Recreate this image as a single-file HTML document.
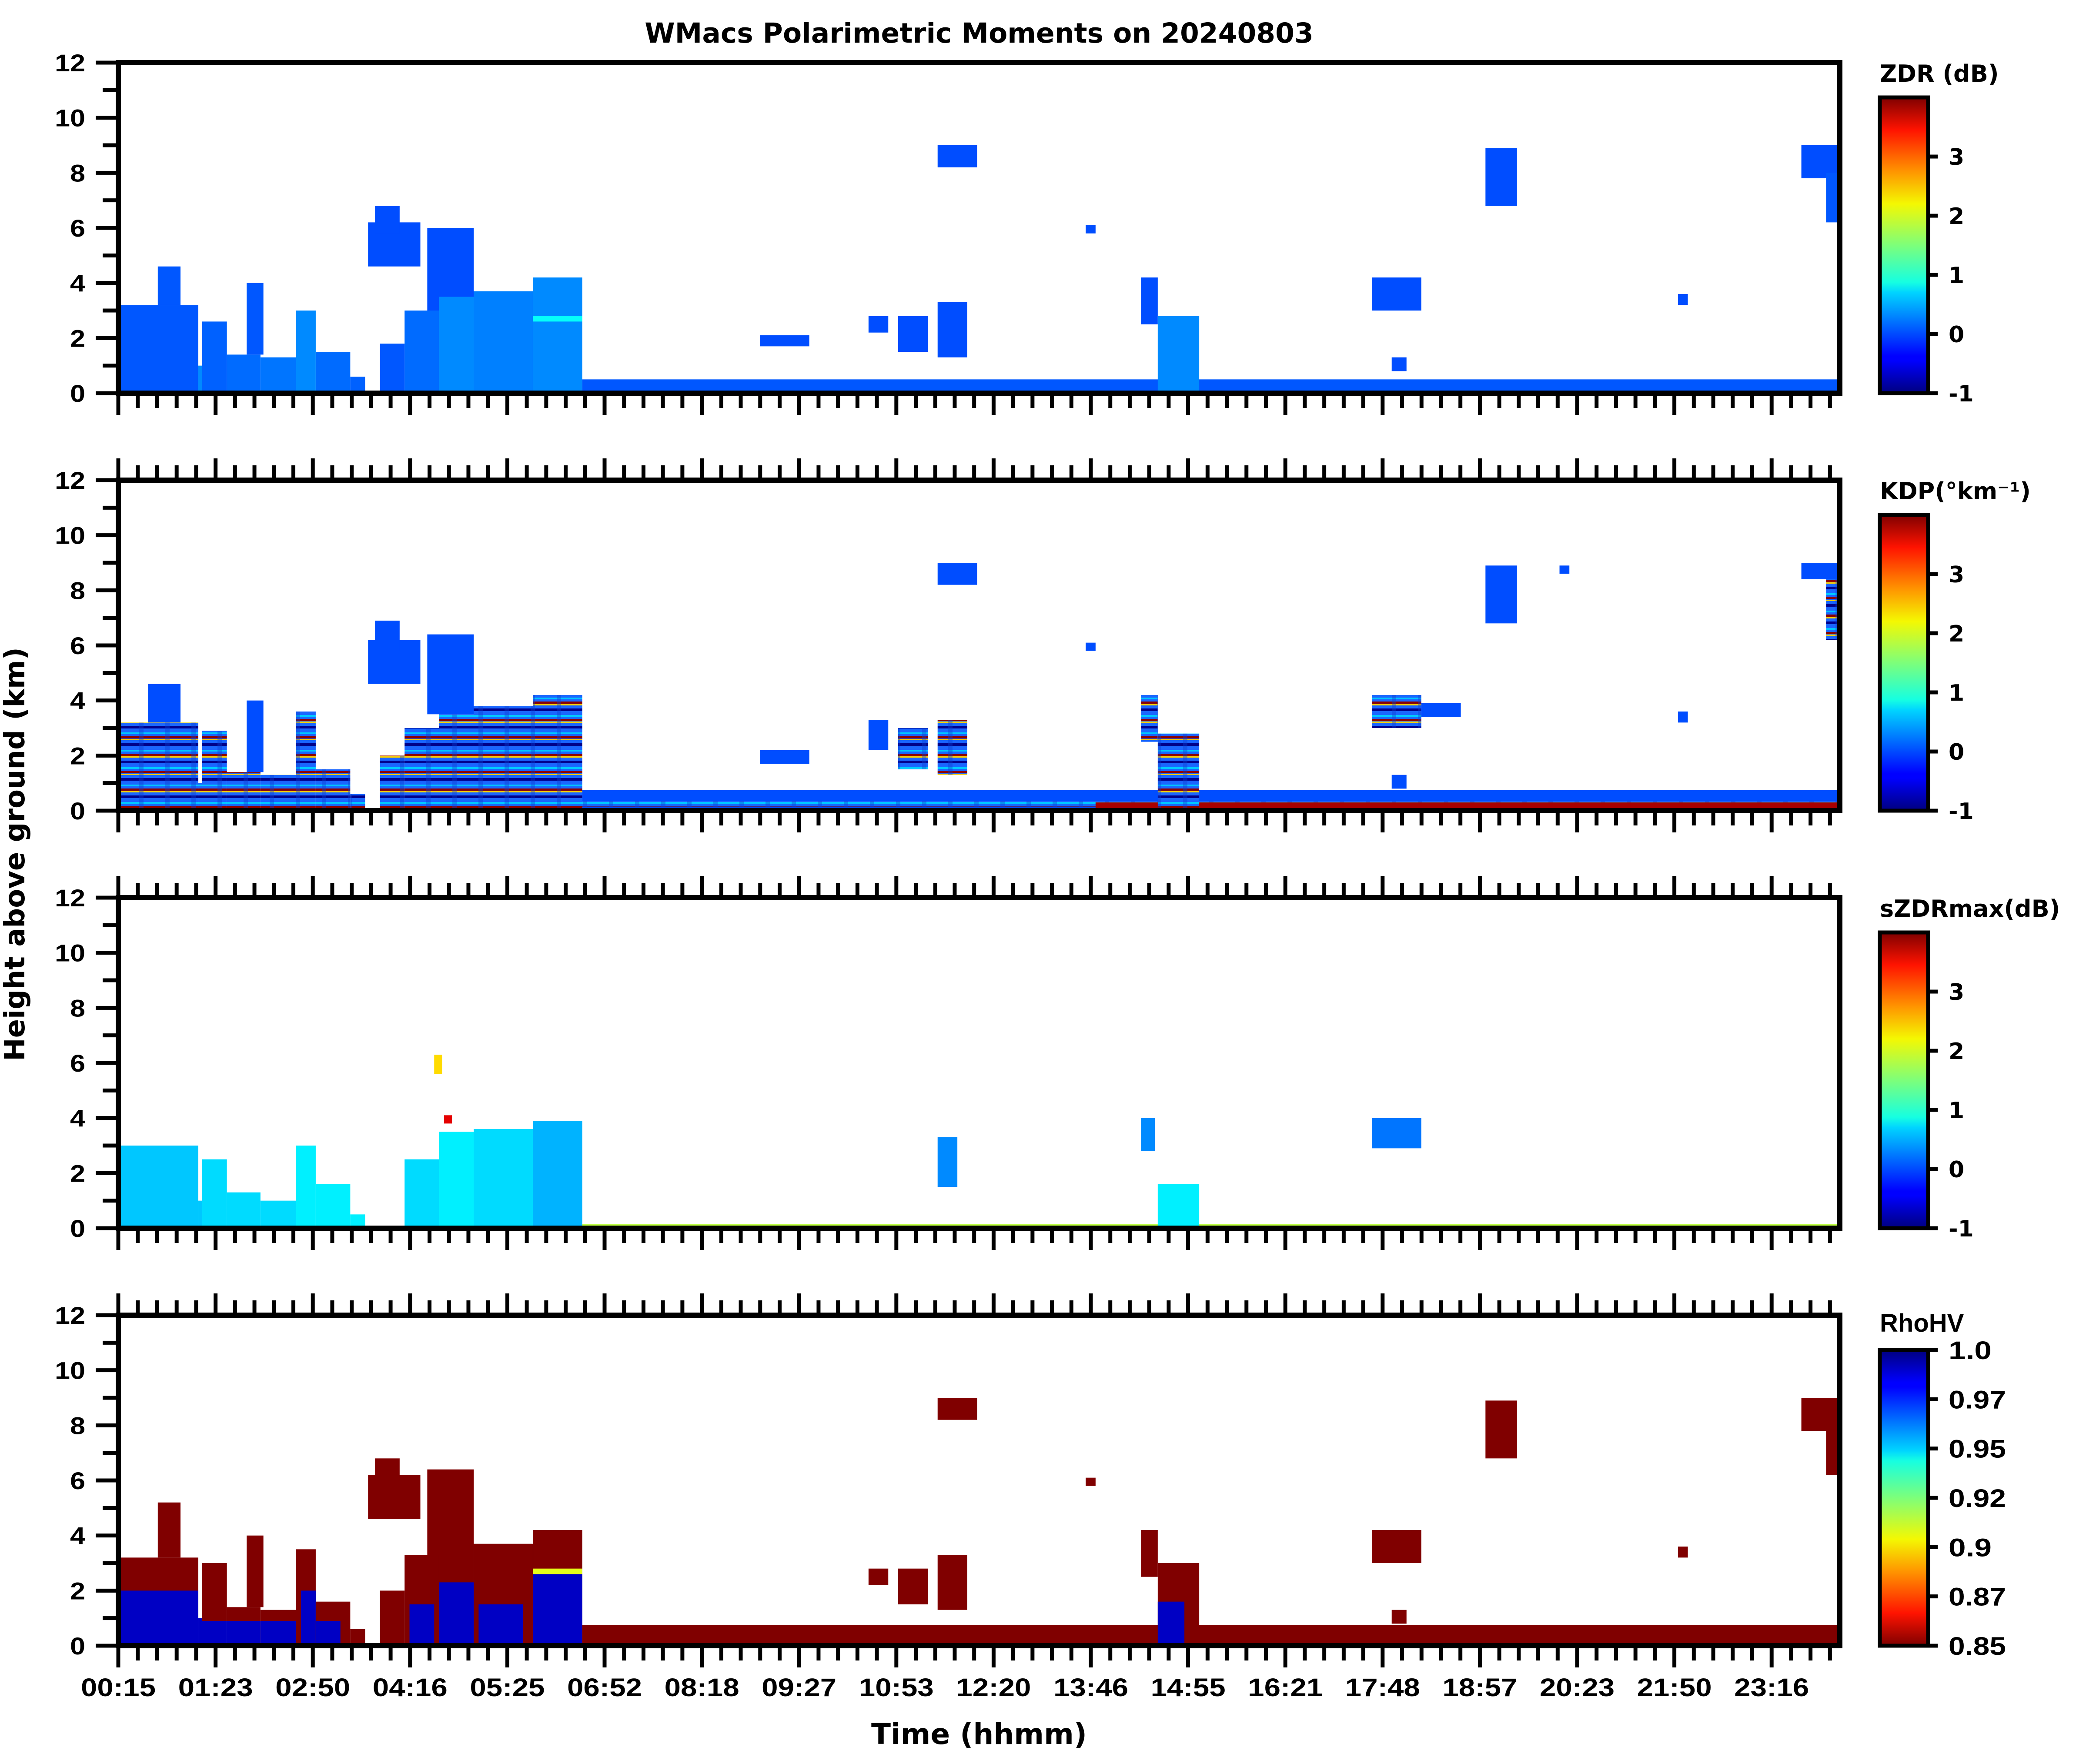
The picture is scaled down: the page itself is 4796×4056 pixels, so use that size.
<!DOCTYPE html>
<html><head><meta charset="utf-8"><title>WMacs Polarimetric Moments</title>
<style>html,body{margin:0;padding:0;background:#fff;}svg{display:block;}</style></head>
<body>
<svg id="fig" xmlns="http://www.w3.org/2000/svg" width="4796" height="4056" viewBox="0 0 4796 4056">
<defs>
<linearGradient id="jetV" x1="0" y1="1" x2="0" y2="0">
<stop offset="0" stop-color="#00007f"/><stop offset="0.11" stop-color="#0000ff"/><stop offset="0.125" stop-color="#0000ff"/>
<stop offset="0.34" stop-color="#00d4ff"/><stop offset="0.375" stop-color="#16ffe1"/><stop offset="0.5" stop-color="#7dff7a"/>
<stop offset="0.64" stop-color="#f4f802"/><stop offset="0.75" stop-color="#ff9400"/><stop offset="0.89" stop-color="#ff1300"/><stop offset="1" stop-color="#7f0000"/>
</linearGradient>
<linearGradient id="jetR" x1="0" y1="0" x2="0" y2="1">
<stop offset="0" stop-color="#00007f"/><stop offset="0.11" stop-color="#0000ff"/><stop offset="0.125" stop-color="#0000ff"/>
<stop offset="0.34" stop-color="#00d4ff"/><stop offset="0.375" stop-color="#16ffe1"/><stop offset="0.5" stop-color="#7dff7a"/>
<stop offset="0.64" stop-color="#f4f802"/><stop offset="0.75" stop-color="#ff9400"/><stop offset="0.89" stop-color="#ff1300"/><stop offset="1" stop-color="#7f0000"/>
</linearGradient>
<pattern id="mix" width="60" height="40" patternUnits="userSpaceOnUse">
<rect width="60" height="40" fill="#1a66ff"/>
<rect y="4" width="60" height="4" fill="#00c8ff"/>
<rect y="13" width="60" height="5" fill="#8b0000"/>
<rect y="19" width="60" height="3" fill="#ffd000"/>
<rect y="29" width="60" height="6" fill="#00008b"/>
<rect x="20" y="0" width="10" height="40" fill="#0a3fd0" opacity="0.4"/>
</pattern>
</defs>
<g id="plots"></g>
<text x="2251" y="98" text-anchor="middle" font-family="'DejaVu Sans', sans-serif" font-weight="bold" font-size="63">WMacs Polarimetric Moments on 20240803</text>
<text x="2251" y="4010" text-anchor="middle" font-family="'DejaVu Sans', sans-serif" font-weight="bold" font-size="66">Time (hhmm)</text>
<text transform="translate(56,1964) rotate(-90)" text-anchor="middle" font-family="'DejaVu Sans', sans-serif" font-weight="bold" font-size="64">Height above ground (km)</text>
</svg>
<script>
// ---- data (time in major-tick units from 00:15, height in km) ----
var timeLabels = ["00:15","01:23","02:50","04:16","05:25","06:52","08:18","09:27","10:53","12:20","13:46","14:55","16:21","17:48","18:57","20:23","21:50","23:16"];
var heightTicks = [0,2,4,6,8,10,12];
var panelTitles = ["ZDR (dB)","KDP(°km⁻¹)","sZDRmax(dB)","RhoHV"];
var cbTicksMoment = [-1,0,1,2,3];
var cbTicksRho = ["0.85","0.87","0.9","0.92","0.95","0.97","1.0"];
// blocks: [t0, t1, h0, h1, value]
var zdrBlocks = [
 [0,0.81,0,3.2,0.05],[0.4,0.63,3.2,4.6,0.05],[0.81,0.9,0,1.0,0.3],[0.85,1.1,0,2.6,0.1],[1.1,1.44,0,1.4,0.15],
 [1.3,1.47,1.4,4.0,0.05],[1.44,1.8,0,1.3,0.2],[1.8,2.0,0,3.0,0.3],[2.0,2.35,0,1.5,0.15],[2.35,2.5,0,0.6,0.1],
 [2.53,3.06,4.6,6.2,0.0],[2.6,2.85,5.8,6.8,0.0],[2.65,2.9,0,1.8,0.05],[2.9,3.25,0,3.0,0.15],[3.13,3.6,3.0,6.0,0.0],
 [3.25,3.6,0,3.5,0.3],[3.6,4.2,0,3.7,0.25],[4.2,4.7,0,4.2,0.3],[4.2,4.7,2.6,2.8,0.9],
 [4.7,17.7,0,0.5,0.05],
 [8.3,8.7,8.2,9.0,0.0],[7.6,7.8,2.2,2.8,0.0],[7.9,8.2,1.5,2.8,0.0],[8.3,8.6,1.3,3.3,0.0],[6.5,7.0,1.7,2.1,0.0],
 [10.36,10.53,2.5,4.2,0.0],[10.53,10.95,0,2.8,0.3],[12.7,13.2,3.0,4.2,0.0],[12.9,13.05,0.8,1.3,0.0],
 [13.85,14.17,6.8,8.9,0.0],[17.05,17.7,7.8,9.0,0.0],[17.3,17.7,6.2,8.0,0.05],[9.8,9.9,5.8,6.1,0.0],[15.8,15.9,3.2,3.6,0.0]
];
var kdpBlocks = [
 [0,0.81,0,3.2,"mix"],[0.3,0.63,3.2,4.6,0.0],[0.81,0.9,0,1.0,"mix"],[0.85,1.1,0,2.9,"mix"],[1.1,1.44,0,1.4,"mix"],
 [1.3,1.47,1.4,4.0,0.0],[1.44,1.8,0,1.3,"mix"],[1.8,2.0,0,3.6,"mix"],[2.0,2.35,0,1.5,"mix"],[2.35,2.5,0,0.6,"mix"],
 [2.53,3.06,4.6,6.2,0.0],[2.6,2.85,5.8,6.9,0.0],[2.65,2.9,0,2.0,"mix"],[2.9,3.25,0,3.0,"mix"],[3.13,3.6,3.5,6.4,0.0],
 [3.25,3.6,0,3.5,"mix"],[3.6,4.2,0,3.8,"mix"],[4.2,4.7,0,4.2,"mix"],
 [4.7,17.7,0,0.75,0.0],[4.7,17.7,0.15,0.35,"mix"],[9.9,17.7,0,0.3,3.8],
 [8.3,8.7,8.2,9.0,0.0],[7.6,7.8,2.2,3.3,0.0],[7.9,8.2,1.5,3.0,"mix"],[8.3,8.6,1.3,3.3,"mix"],[6.5,7.0,1.7,2.2,0.0],
 [10.36,10.53,2.5,4.2,"mix"],[10.53,10.95,0,2.8,"mix"],[12.7,13.2,3.0,4.2,"mix"],[13.2,13.6,3.4,3.9,0.0],[12.9,13.05,0.8,1.3,0.0],
 [13.85,14.17,6.8,8.9,0.0],[17.05,17.7,8.4,9.0,0.0],[17.3,17.7,6.2,8.4,"mix"],[9.8,9.9,5.8,6.1,0.0],[15.8,15.9,3.2,3.6,0.0],[14.6,14.7,8.6,8.9,0.0]
];
var szdrBlocks = [
 [0,0.81,0,3.0,0.6],[0.81,0.9,0,1.0,0.6],[0.85,1.1,0,2.5,0.7],[1.1,1.44,0,1.3,0.7],[1.44,1.8,0,1.0,0.7],
 [1.8,2.0,0,3.0,0.8],[2.0,2.35,0,1.6,0.8],[2.35,2.5,0,0.5,0.8],[2.9,3.25,0,2.5,0.7],[3.25,3.6,0,3.5,0.8],
 [3.6,4.2,0,3.6,0.7],[4.2,4.7,0,3.9,0.5],[3.3,3.38,3.8,4.1,3.5],[3.2,3.28,5.6,6.3,2.3],
 [4.7,17.7,0,0.15,1.8],[10.36,10.5,2.8,4.0,0.3],[10.53,10.95,0,1.6,0.8],[12.7,13.2,2.9,4.0,0.2],[17.5,17.7,6.4,9.0,0.6],[8.3,8.5,1.5,3.3,0.3]
];
var rhoBlocks = [
 [0,0.81,1.0,3.2,0.85],[0,0.81,0,2.0,0.99],[0.4,0.63,3.2,5.2,0.85],[0.81,0.9,0,1.0,0.99],[0.85,1.1,0.9,3.0,0.85],[0.85,1.1,0,0.9,0.99],
 [1.1,1.44,0.9,1.4,0.85],[1.1,1.44,0,0.9,0.99],[1.3,1.47,1.4,4.0,0.85],[1.44,1.8,0,1.3,0.85],[1.44,1.8,0,0.9,0.99],
 [1.8,2.0,0,3.5,0.85],[1.85,2.0,0,2.0,0.99],[2.0,2.35,0,1.6,0.85],[2.0,2.25,0,0.9,0.99],[2.35,2.5,0,0.6,0.85],
 [2.53,3.06,4.6,6.2,0.85],[2.6,2.85,5.8,6.8,0.85],[2.65,2.9,0,2.0,0.85],[2.9,3.25,0,3.3,0.85],[2.95,3.2,0,1.5,0.99],[3.13,3.6,3.3,6.4,0.85],
 [3.25,3.6,0,3.8,0.85],[3.25,3.6,0,2.3,0.99],[3.6,4.2,0,3.7,0.85],[3.65,4.1,0,1.5,0.99],[4.2,4.7,0,4.2,0.85],[4.2,4.7,0,2.6,0.99],[4.2,4.7,2.6,2.8,0.91],
 [4.7,17.7,0,0.75,0.85],[8.3,8.7,8.2,9.0,0.85],[7.6,7.8,2.2,2.8,0.85],[7.9,8.2,1.5,2.8,0.85],[8.3,8.6,1.3,3.3,0.85],
 [10.36,10.53,2.5,4.2,0.85],[10.53,10.95,0,3.0,0.85],[10.53,10.8,0,1.6,0.99],[12.7,13.2,3.0,4.2,0.85],[12.9,13.05,0.8,1.3,0.85],
 [13.85,14.17,6.8,8.9,0.85],[17.05,17.7,7.8,9.0,0.85],[17.3,17.7,6.2,8.0,0.85],[9.8,9.9,5.8,6.1,0.85],[15.8,15.9,3.2,3.6,0.85]
];

(function(){
var NS = "http://www.w3.org/2000/svg";
var X0 = 272, X1 = 4230, MAJOR = 223.6, HMAX = 12;
var panelTops = [144, 1104, 2064, 3024];
var PH = 760;
function xs(t){ return X0 + t * MAJOR; }
function xdat(t){ return Math.min(X1, xs(t * 1.015)); }
function mk(tag, attrs, parent){ var e = document.createElementNS(NS, tag); for (var k in attrs) e.setAttribute(k, attrs[k]); parent.appendChild(e); return e; }
function jet(v){
  v = Math.max(0, Math.min(1, v));
  function c(x){ return Math.round(255 * Math.max(0, Math.min(1, x))); }
  var r = c(1.5 - Math.abs(4*v - 3)), g = c(1.5 - Math.abs(4*v - 2)), b = c(1.5 - Math.abs(4*v - 1));
  return "rgb(" + r + "," + g + "," + b + ")";
}
function colorFor(p, v){
  if (v === "mix") return "url(#mix)";
  if (p === 3) return jet((1.0 - v) / 0.15);
  return jet((v + 1) / 5);
}
var root = document.getElementById("plots");
var allBlocks = [zdrBlocks, kdpBlocks, szdrBlocks, rhoBlocks];
var panelNames = ["zdr","kdp","szdrmax","rhohv"];

for (var p = 0; p < 4; p++) {
  var pTop = panelTops[p], pBot = pTop + PH;
  var ys = (function(b){ return function(h){ return b - h / HMAX * PH; }; })(pBot);
  var g = mk("g", {}, root);
  
  
  var blocks = allBlocks[p];
  for (var i = 0; i < blocks.length; i++) {
    var b = blocks[i];
    var r = mk("rect", {x: xdat(b[0]), y: ys(b[3]), width: xdat(b[1]) - xdat(b[0]), height: ys(b[2]) - ys(b[3]), fill: colorFor(p, b[4])}, g);
    
    
  }
  var fr = mk("rect", {x: X0, y: pTop, width: X1 - X0, height: PH, fill: "none", stroke: "#000", "stroke-width": 12}, g);
  
  
  for (var k = 0; k * MAJOR / 5 + X0 <= X1 - 5; k++) {
    var x = X0 + k * MAJOR / 5, len = (k % 5 === 0) ? 44 : 28;
    var tk = mk("line", {x1: x, x2: x, y1: pBot + 6, y2: pBot + 6 + len, stroke: "#000", "stroke-width": 9}, g);
    
    
    if (p > 0) {
      var tk2 = mk("line", {x1: x, x2: x, y1: pTop - 6, y2: pTop - 6 - len, stroke: "#000", "stroke-width": 9}, g);
      
      
    }
  }
  for (var h = 0; h <= 12; h++) {
    var y = ys(h), len2 = (h % 2 === 0) ? 46 : 30;
    var yt = mk("line", {x1: X0 - 6, x2: X0 - 6 - len2, y1: y, y2: y, stroke: "#000", "stroke-width": 9}, g);
    
    
  }
  for (var j = 0; j < heightTicks.length; j++) {
    var yl = mk("text", {x: 196, y: ys(heightTicks[j]) + 20, "text-anchor": "end", "font-family": "'Liberation Sans', sans-serif", "font-weight": "bold", "font-size": 56, textLength: String(heightTicks[j]).length * 35, lengthAdjust: "spacingAndGlyphs"}, g);
    yl.textContent = heightTicks[j];
    
    
  }
  var cbTop = pTop + 80, cbBot = pBot, cbX = 4322, cbW = 111;
  var cb = mk("rect", {x: cbX, y: cbTop, width: cbW, height: cbBot - cbTop, fill: p === 3 ? "url(#jetR)" : "url(#jetV)", stroke: "#000", "stroke-width": 9}, g);
  
  
  var ct = mk("text", {x: cbX, y: pTop + (p === 3 ? 38 : 44), "font-family": p === 3 ? "'Liberation Sans', sans-serif" : "'DejaVu Sans', sans-serif", "font-weight": "bold", "font-size": p === 3 ? 58 : 54}, g);
  ct.textContent = panelTitles[p];
  
  
  if (p < 3) {
    for (var m = 0; m < cbTicksMoment.length; m++) {
      var v = cbTicksMoment[m], yy = cbBot - (v + 1) / 5 * (cbBot - cbTop);
      var cl = mk("line", {x1: cbX + cbW, x2: cbX + cbW + 22, y1: yy, y2: yy, stroke: "#000", "stroke-width": 9}, g);
      
      
      var tl = mk("text", {x: 4480, y: yy + 19, "font-family": "'DejaVu Sans', sans-serif", "font-weight": "bold", "font-size": 52}, g);
      tl.textContent = v;
      
      
    }
  } else {
    for (var n = 0; n < cbTicksRho.length; n++) {
      var yr = cbBot - n / (cbTicksRho.length - 1) * (cbBot - cbTop);
      var rl = mk("line", {x1: cbX + cbW, x2: cbX + cbW + 22, y1: yr, y2: yr, stroke: "#000", "stroke-width": 9}, g);
      
      
      var rt = mk("text", {x: 4480, y: yr + 21, "font-family": "'Liberation Sans', sans-serif", "font-weight": "bold", "font-size": 58, textLength: cbTicksRho[n].length * 33, lengthAdjust: "spacingAndGlyphs"}, g);
      rt.textContent = cbTicksRho[n];
      
      
    }
  }
}
for (var q = 0; q < timeLabels.length; q++) {
  var lt = mk("text", {x: xs(q), y: 3900, "text-anchor": "middle", "font-family": "'Liberation Sans', sans-serif", "font-weight": "bold", "font-size": 58, textLength: 172, lengthAdjust: "spacingAndGlyphs"}, root);
  lt.textContent = timeLabels[q];
  
  
}
})();
</script>
</body></html>
